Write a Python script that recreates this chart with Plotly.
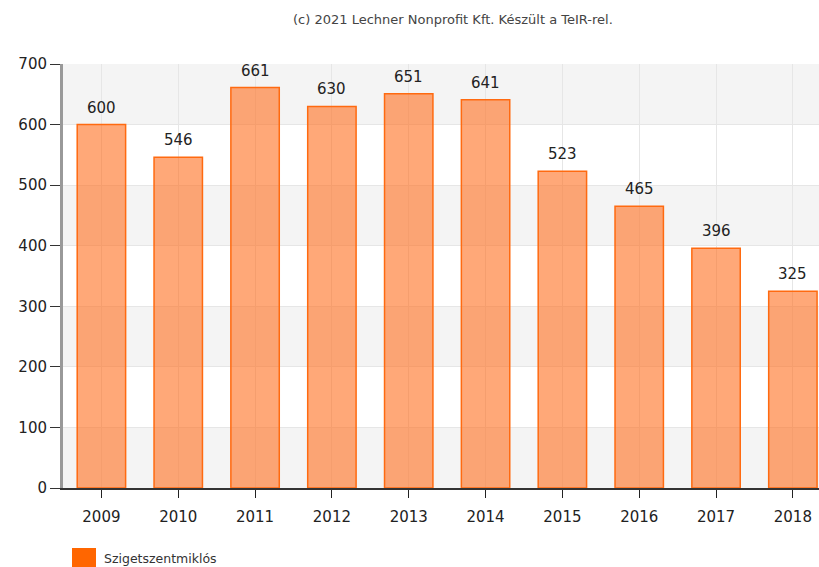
import plotly.graph_objects as go

years = ["2009", "2010", "2011", "2012", "2013", "2014", "2015", "2016", "2017", "2018"]
values = [600, 546, 661, 630, 651, 641, 523, 465, 396, 325]
series_name = "Szigetszentmiklós"
y_ticks = [0, 100, 200, 300, 400, 500, 600, 700]

FONT = "Verdana, DejaVu Sans, sans-serif"
PLOT_TOP, PLOT_BOTTOM, PLOT_LEFT = 64, 488, 63
PH = PLOT_BOTTOM - PLOT_TOP
PW = 819 - PLOT_LEFT


def py(p):
    return (PLOT_BOTTOM - p) / PH


def px(p):
    return (p - PLOT_LEFT) / PW


xs = list(range(len(years)))

fig = go.Figure()
fig.add_trace(go.Bar(
    x=xs, y=values, name=series_name,
    width=0.63,
    marker=dict(color="rgba(255,110,30,0.6)", line=dict(color="#FF6A10", width=1.5)),
    showlegend=False, hoverinfo="x+y",
))

shapes = []
for lo in [0, 200, 400, 600]:
    shapes.append(dict(type="rect", xref="paper", yref="y", x0=0, x1=1, y0=lo, y1=lo + 100,
                       fillcolor="#f4f4f4", line=dict(width=0), layer="below"))
# legend swatch
shapes.append(dict(type="rect", xref="paper", yref="paper", x0=px(72), x1=px(96),
                   y0=py(569), y1=py(548), fillcolor="#FF6600", line=dict(width=0)))

annotations = [
    dict(text="(c) 2021 Lechner Nonprofit Kft. Készült a TeIR-rel.", xref="paper", yref="paper",
         x=px(453), y=py(19), showarrow=False, xanchor="center", yanchor="middle",
         font=dict(size=13, color="#444")),
    dict(text=series_name, xref="paper", yref="paper", x=px(102), y=py(558),
         showarrow=False, xanchor="left", yanchor="middle", font=dict(size=12.5, color="#333")),
]
for xi, v in zip(xs, values):
    annotations.append(dict(x=xi, y=v, text=str(v), showarrow=False, yanchor="bottom",
                            yshift=6, font=dict(size=15, color="#222")))

fig.update_layout(
    width=819, height=567,
    margin=dict(l=63, r=0, t=64, b=79),
    paper_bgcolor="white", plot_bgcolor="white",
    font=dict(family=FONT, size=15, color="#222"),
    shapes=shapes, annotations=annotations,
)
fig.update_xaxes(
    range=[-0.5, 9.34], tickmode="array", tickvals=xs, ticktext=years,
    showgrid=True, gridcolor="#e6e6e6", gridwidth=1,
    ticks="outside", ticklen=8, tickcolor="#222", showline=True, linecolor="#333", linewidth=1.5,
    zeroline=False, tickfont=dict(size=15, color="#222"), ticklabelstandoff=6,
)
fig.update_yaxes(
    range=[0, 700], tickvals=y_ticks, showgrid=True, gridcolor="#e6e6e6",
    ticks="outside", ticklen=10, tickcolor="#333", showline=True, linecolor="#999", linewidth=3,
    zeroline=False, tickfont=dict(size=15, color="#222"),
)

fig.write_html(
    "out.html",
    config={"displayModeBar": False},
    post_script="document.body.style.margin='0';document.body.style.overflow='hidden';",
)
